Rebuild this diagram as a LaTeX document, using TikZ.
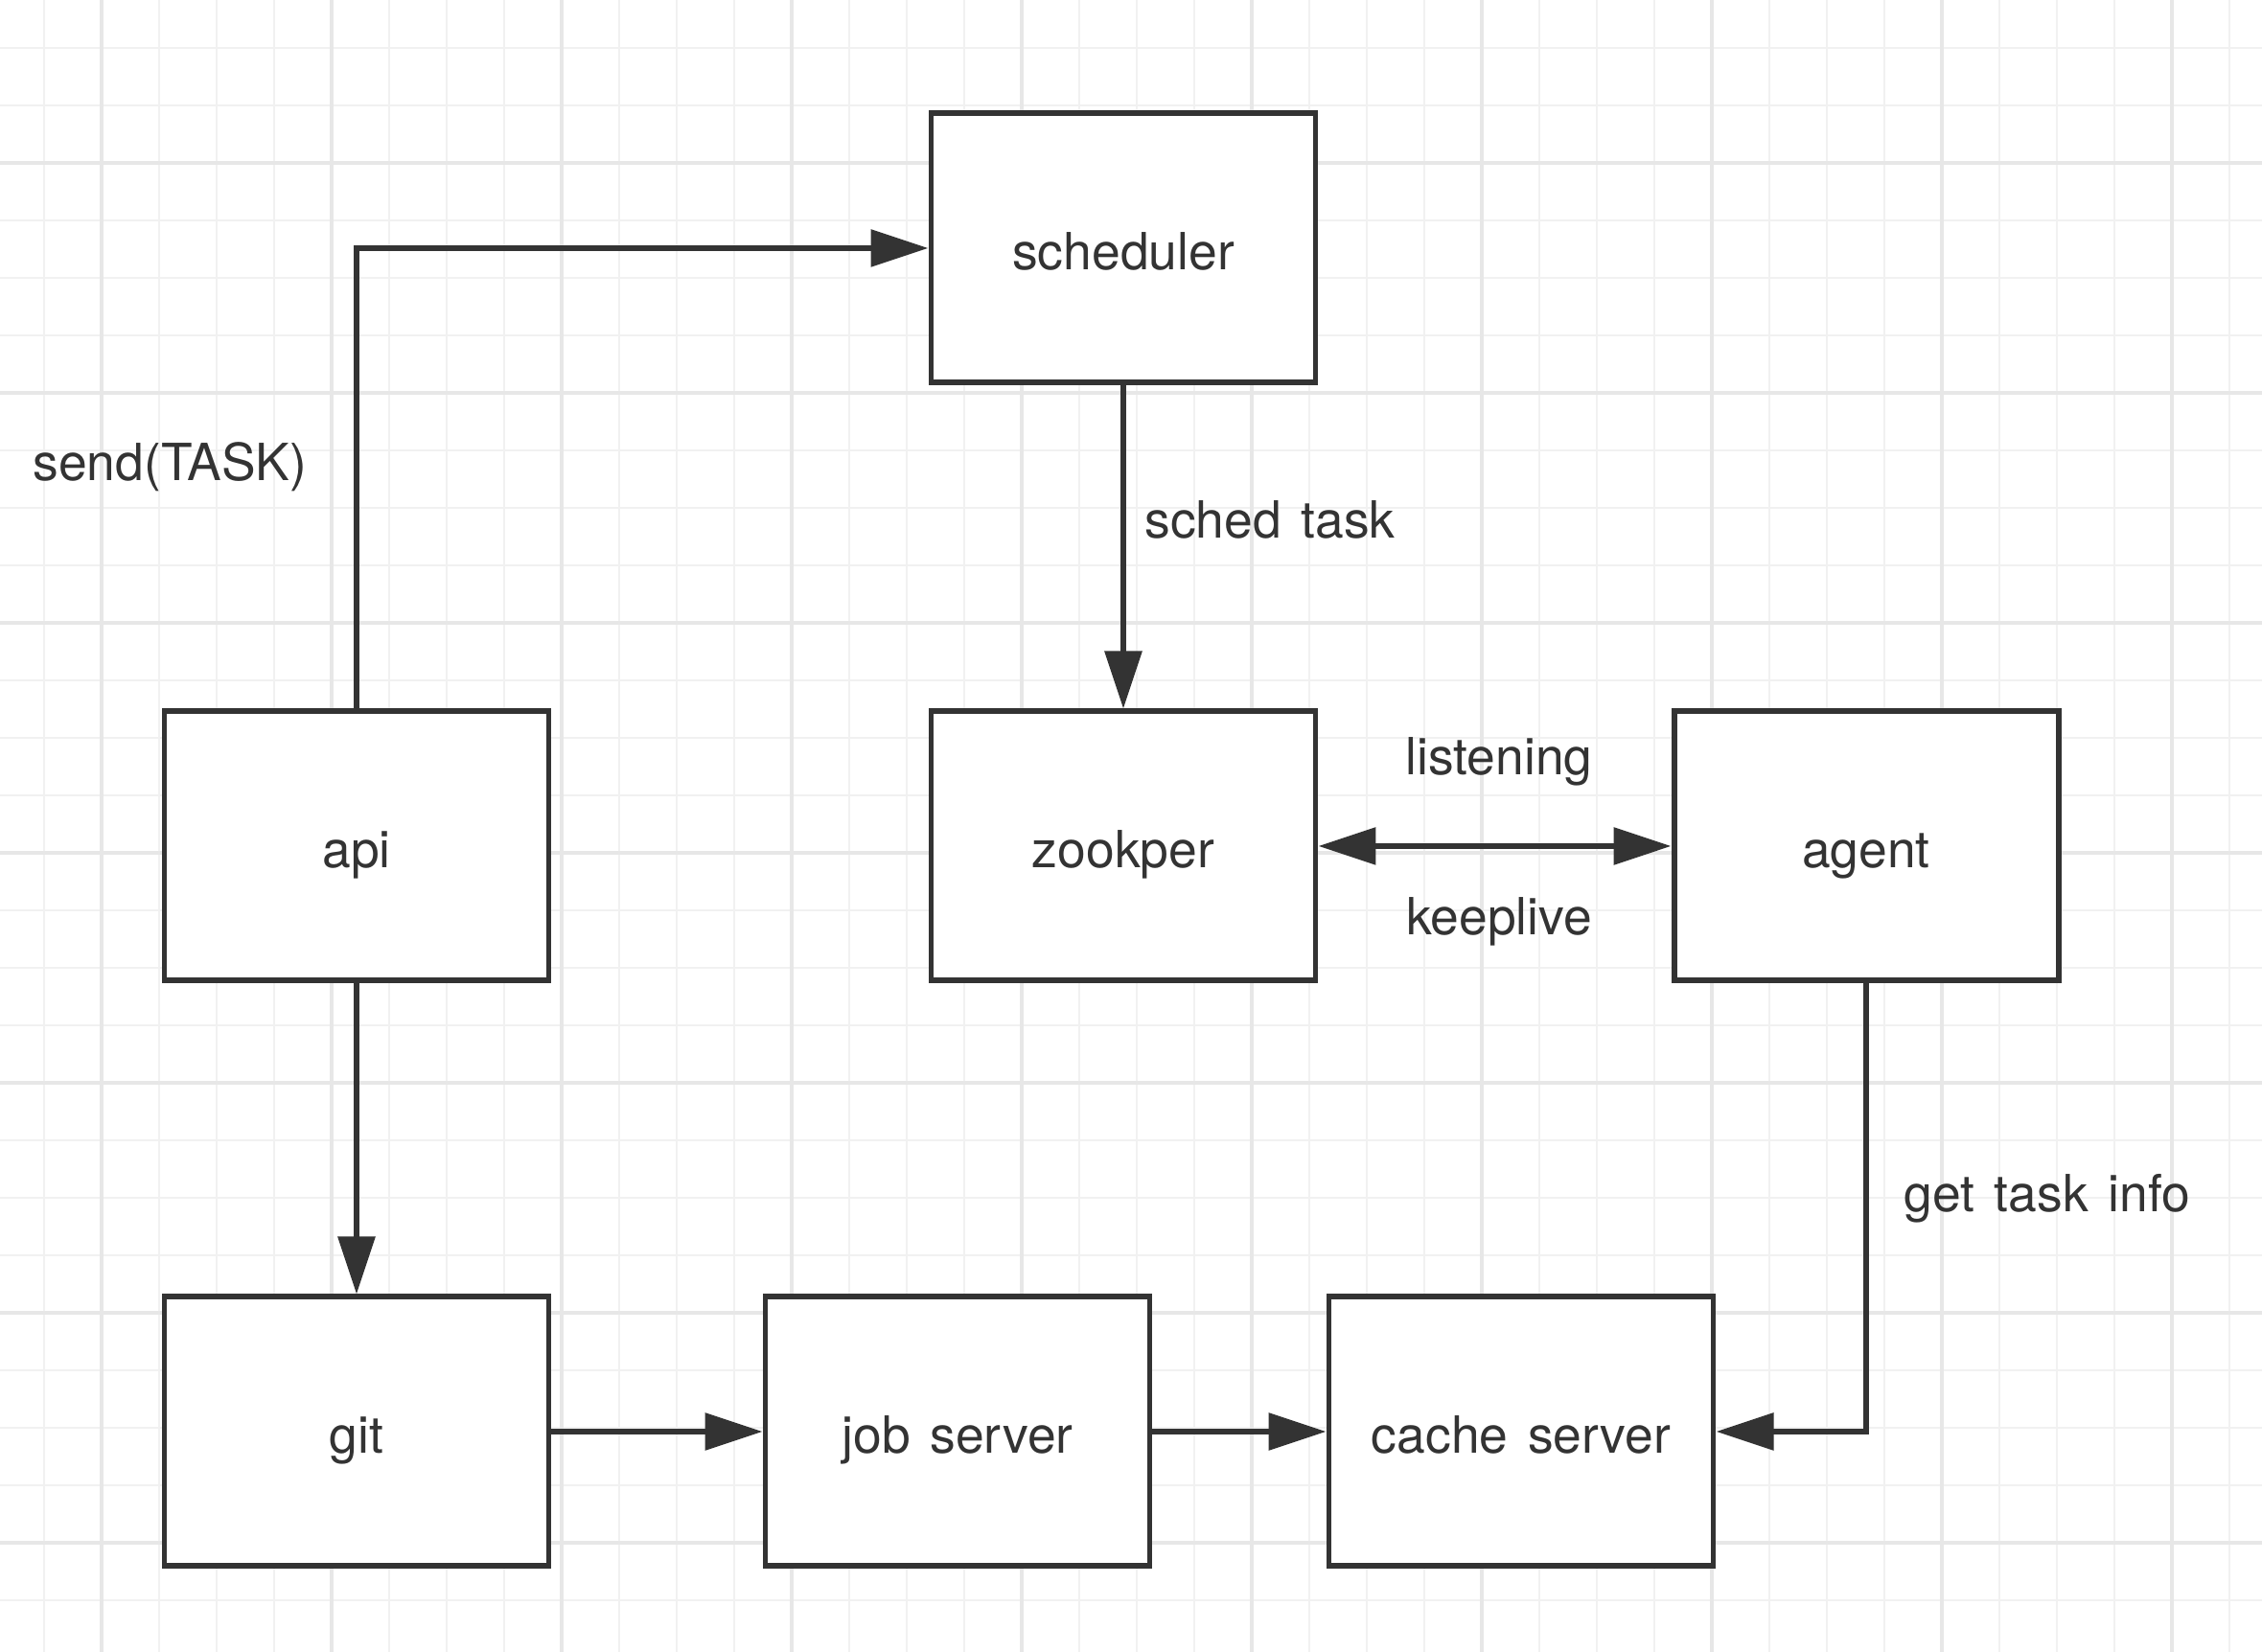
\documentclass[tikz,border=0pt]{standalone}
\usepackage{fontspec}
\setmainfont{TeX Gyre Heros}[WordSpace=1.4]
\usepackage{tikz}
\usetikzlibrary{arrows.meta}
\usepackage{xcolor}
\definecolor{ink}{HTML}{333333}
\definecolor{gridminor}{HTML}{F1F1F1}
\definecolor{gridmajor}{HTML}{E7E7E7}

\begin{document}
\begin{tikzpicture}[
        box/.style={draw=ink, line width=1.7pt, fill=white, minimum width=4.01cm,
            minimum height=2.81cm, text=ink, font=\fontsize{15.2}{18}\selectfont,
            text height=12.8pt, text depth=0pt},
        flow/.style={draw=ink, line width=1.7pt, -{Triangle[length=0.6cm, width=0.38cm]}},
        tag/.style={text=ink, font=\fontsize{15.2}{18}\selectfont}]
        \useasboundingbox (0, 0) rectangle (23.6, 17.24);
        % Grid
        \foreach \x in {0,...,38} {
            \draw [gridminor, line width=0.75pt] (0.46 + 0.6*\x, 0) -- (0.46 + 0.6*\x, 17.24);
        }
        \foreach \y in {0,...,27} {
            \draw [gridminor, line width=0.75pt] (0, 16.74 - 0.6*\y) -- (23.6, 16.74 - 0.6*\y);
        }
        \foreach \x in {0,...,9} {
            \draw [gridmajor, line width=1pt] (1.06 + 2.4*\x, 0) -- (1.06 + 2.4*\x, 17.24);
        }
        \foreach \y in {0,...,6} {
            \draw [gridmajor, line width=1pt] (0, 15.54 - 2.4*\y) -- (23.6, 15.54 - 2.4*\y);
        }
        % Boxes
        \node [box] (scheduler) at (11.72, 14.65) {scheduler};
        \node [box] (api) at (3.72, 8.41) {api};
        \node [box] (zookper) at (11.72, 8.41) {zookper};
        \node [box] (agent) at (19.47, 8.41) {agent};
        \node [box] (git) at (3.72, 2.30) {git};
        \node [box] (jobserver) at (9.99, 2.30) {job server};
        \node [box] (cacheserver) at (15.87, 2.30) {cache server};
        % Arrows
        \draw [flow] (api.north) |- (scheduler.west);
        \draw [flow] (scheduler.south) -- (zookper.north);
        \draw [flow, {Triangle[length=0.6cm, width=0.38cm]}-{Triangle[length=0.6cm, width=0.38cm]}]
            (zookper.east) -- (agent.west);
        \draw [flow] (api.south) -- (git.north);
        \draw [flow] (git.east) -- (jobserver.west);
        \draw [flow] (jobserver.east) -- (cacheserver.west);
        \draw [flow] (agent.south) |- (cacheserver.east);
        % Labels
        \node [tag, anchor=west] (sendlabel) at (0.22, 12.37) {send(TASK)};
        \node [tag, anchor=west] (schedlabel) at (11.82, 11.82) {sched task};
        \node [tag] (listenlabel) at (15.64, 9.29) {listening};
        \node [tag] (keeplabel) at (15.64, 7.62) {keeplive};
        \node [tag, anchor=west] (infolabel) at (19.74, 4.73) {get task info};
    \end{tikzpicture}
\end{document}
